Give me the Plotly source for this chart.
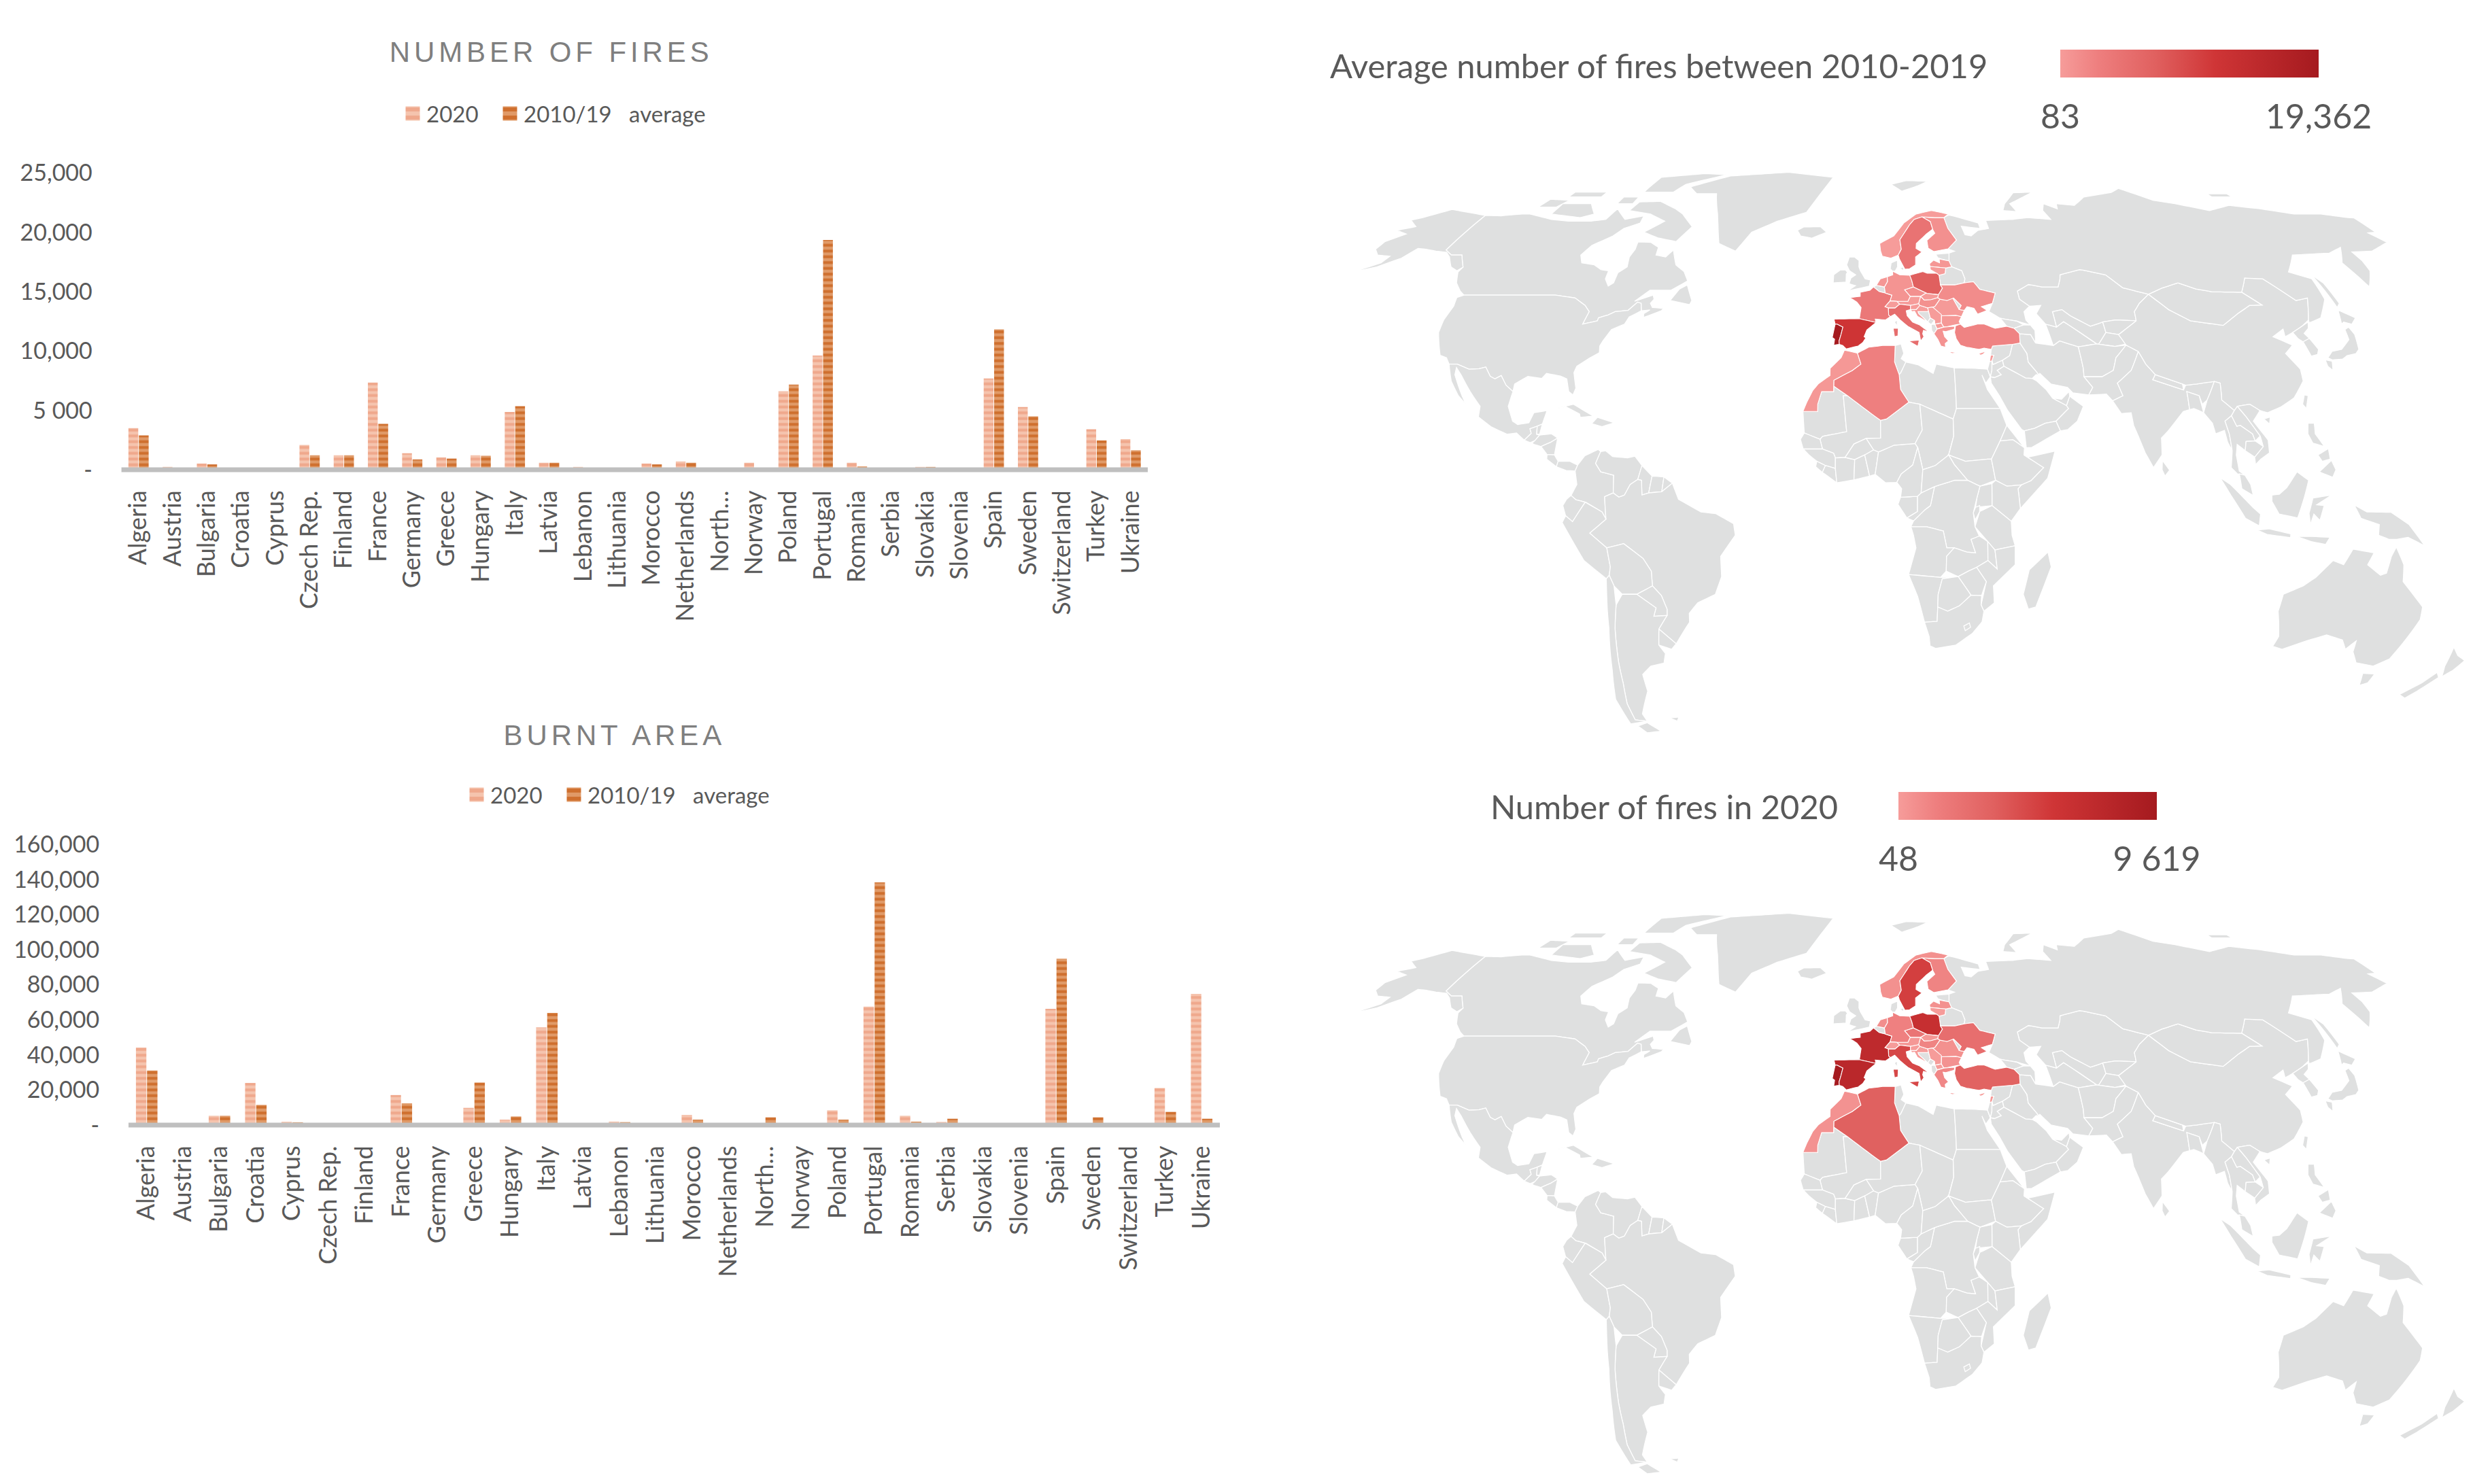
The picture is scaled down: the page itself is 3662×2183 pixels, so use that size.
import plotly.graph_objects as go
from urllib.parse import quote

W, H = 3662, 2183

CATEGORIES = ["Algeria","Austria","Bulgaria","Croatia","Cyprus","Czech Rep.","Finland","France","Germany","Greece",
              "Hungary","Italy","Latvia","Lebanon","Lithuania","Morocco","Netherlands","North…","Norway","Poland",
              "Portugal","Romania","Serbia","Slovakia","Slovenia","Spain","Sweden","Switzerland","Turkey","Ukraine"]
FIRES_2020 = [3515,240,520,60,60,2090,1220,7340,1390,1040,1220,4870,590,240,90,520,700,48,590,6610,
              9619,590,60,240,60,7690,5290,48,3410,2580]
FIRES_AVG = [2890,110,450,100,100,1220,1220,3860,870,940,1180,5360,590,120,90,450,590,100,120,7170,
             19362,280,100,240,90,11830,4490,83,2470,1640]
AREA_2020 = [44200,200,5300,24000,1900,100,100,17100,200,9800,3100,55700,100,2000,50,5800,200,100,100,8400,
             67500,5300,1800,100,50,66200,100,50,21100,74800]
AREA_AVG = [31100,100,5300,11500,1600,100,300,12400,300,24200,4900,63900,100,1700,50,3100,100,4400,100,3100,
            138300,2000,3600,200,50,94800,4400,50,7500,3600]
FIRE_TICKS = [0,5000,10000,15000,20000,25000]
FIRE_TICK_TEXT = ["-","5 000","10,000","15,000","20,000","25,000"]
AREA_TICKS = [0,20000,40000,60000,80000,100000,120000,140000,160000]
AREA_TICK_TEXT = ["-","20,000","40,000","60,000","80,000","100,000","120,000","140,000","160,000"]

# Rough country outlines, lon/lat, one list of rings per country
OUTLINES = {
"Canada":[[(-141,69.6),(-135,69.5),(-128,70),(-125,70),(-115,68.5),(-108,68),(-100,68),(-95,68.5),(-94,71.5),(-88,68.5),(-82,69.5),(-81.5,67.5),(-86,66),(-88,64),(-93,61.5),(-94.5,59),(-92.5,57),(-88,56.5),(-85,55.3),(-82.3,55),(-82,53),(-80,51.2),(-78.8,52),(-79,54.5),(-77,56),(-78,58.5),(-77.5,60.5),(-78,62.4),(-73.5,62.3),(-70,61),(-69.5,59),(-66,58.5),(-64.5,60.3),(-61.5,56.5),(-58,54.8),(-55.8,52.5),(-60,50.2),(-66.5,50.2),(-70,47.5),(-65,49),(-64.3,48),(-65,47),(-64,46),(-61,45.8),(-60,46.5),(-61,45.2),(-65.7,43.6),(-66,44.5),(-64.5,45.4),(-67,45.2),(-67.8,47),(-69,47.3),(-71,45.3),(-74.7,45),(-76.5,44.2),(-79,43.5),(-79,42.8),(-83,42),(-82.5,45),(-84.5,46.5),(-88.5,48.3),(-95,49),(-123,49),(-125,50),(-128,52),(-130.3,54.7),(-130,55.9),(-134,59),(-137.5,59),(-141,60.3)],
 [(-62,66.5),(-65,62.5),(-72,63.5),(-78,65),(-73,68),(-80,70),(-89,71),(-88,73.5),(-80,73.7),(-72,71.5),(-68,70)],
 [(-117,70),(-105,69),(-101,70),(-106,73),(-117,73)],
 [(-90,76.5),(-78,76.5),(-76,79),(-62,82.5),(-72,83),(-90,81.5)],
 [(-125,72),(-118,72),(-116,74),(-124,74.3)],
 [(-118,75),(-105,75),(-105,76.5),(-118,76.5)],
 [(-96,73),(-90,73),(-90,75),(-96,75)],
 [(-59.3,47.7),(-53,46.7),(-52.7,47.7),(-55.5,51.5),(-57.5,50.5)]],
"USA":[[(-123,49),(-95,49),(-88.5,48.3),(-84.5,46.5),(-82.5,45),(-83,42),(-79,42.8),(-79,43.5),(-76.5,44.2),(-74.7,45),(-71,45.3),(-69,47.3),(-67.8,47),(-67,45.2),(-70,43.7),(-70.7,42),(-74,40.7),(-75.5,38),(-76,36.8),(-75.6,35.2),(-78,33.9),(-81,32),(-81.4,30.5),(-80,26.8),(-80.5,25.2),(-81.8,26),(-83,29),(-85,29.7),(-89,30.3),(-90,29.1),(-94,29.6),(-97.2,27.8),(-97.2,26),(-99.5,27.5),(-101.5,29.8),(-103,29),(-104.5,29.6),(-106.5,31.8),(-108.2,31.4),(-111,31.3),(-114.8,32.5),(-117.1,32.5),(-118.5,34),(-120.6,34.6),(-122,36.8),(-124,40),(-124.5,43),(-124,46.3),(-124.7,48.4)],
 [(-141,69.6),(-148,70.4),(-156.5,71.3),(-163,69),(-166,68.3),(-161,66.5),(-166,65.5),(-161,64.5),(-165,62.5),(-165,60.5),(-162,59),(-157.5,58.7),(-158,57),(-164,54.7),(-158,56),(-153,58.2),(-151,60.7),(-148,60.5),(-144,60),(-140,59.7),(-137.5,58.5),(-134,56),(-131,55),(-130,55.9),(-134,59),(-137.5,59),(-141,60.3)]],
"Mexico":[[(-117.1,32.5),(-114.8,32.5),(-111,31.3),(-108.2,31.4),(-106.5,31.8),(-104.5,29.6),(-103,29),(-101.5,29.8),(-99.5,27.5),(-97.2,26),(-97.8,22.5),(-96,19),(-94.5,18.2),(-91.5,18.6),(-90.5,21),(-87,21.5),(-87.8,18.3),(-89.1,17.8),(-91,17.2),(-90.5,16.1),(-92.2,14.5),(-94.5,16.2),(-97,15.9),(-101.5,17.6),(-105.5,20),(-105.5,22.5),(-109,26),(-112.8,30),(-114.7,31.7),(-114.5,30),(-111,25),(-109.5,23),(-112,25),(-115,28.5)]],
"Guatemala":[[(-92.2,14.5),(-90.5,16.1),(-91,17.2),(-89.1,17.8),(-89,15.9),(-88.2,15.7),(-89.3,14.4),(-90.5,13.9)]],
"Belize":[[(-89.1,17.8),(-87.8,18.3),(-88.2,15.9),(-89,15.9)]],
"Honduras":[[(-89.3,14.4),(-88.2,15.7),(-85,16),(-83.2,15),(-85,14),(-87.5,13),(-89.5,13.5),(-90,13.8)]],
"Nicaragua":[[(-83.2,15),(-83.7,11),(-85.7,11.1),(-87.5,13),(-85,14)]],
"Costa Rica":[[(-83.7,11),(-82.6,9.5),(-83,8.2),(-85.7,10),(-85.7,11.1)]],
"Panama":[[(-82.6,9.5),(-79.5,9.5),(-77.3,8.6),(-77.9,7.2),(-80.3,7.3),(-83,8.2)]],
"Cuba":[[(-85,21.9),(-80,23),(-74.2,20.2),(-77.7,19.9),(-78,20.7),(-82,22.4)]],
"Hispaniola":[[(-74.4,18.4),(-73,19.9),(-68.3,18.6),(-71.5,17.7)]],
"Greenland":[[(-73,78.2),(-60,82),(-35,83.5),(-14,81.5),(-18,76),(-22,70.5),(-32,68),(-40,65),(-43.5,60),(-50,62),(-53,67),(-55,70),(-60,76),(-68,76)]],
"Iceland":[[(-24,65.5),(-22,66.4),(-16,66.5),(-13.6,65),(-18.5,63.4),(-22.5,64)]],
"Colombia":[[(-77.3,8.6),(-75.5,10.8),(-72,12.3),(-71.3,11.8),(-72.5,9),(-71,7),(-67.5,6.2),(-67.5,2),(-69.8,1.1),(-69.5,-4.2),(-70.5,-2.5),(-74.8,-0.2),(-77.5,0.4),(-78.8,1.4),(-77.3,4),(-77.9,7.2)]],
"Venezuela":[[(-71.3,11.8),(-70,12),(-68,10.6),(-64,10.3),(-62,10.7),(-60,8.5),(-61,5.2),(-63,4),(-64.5,1.5),(-66,1),(-67.5,2),(-67.5,6.2),(-71,7),(-72.5,9)]],
"Guyana":[[(-60,8.5),(-57.2,6),(-58,2),(-59.8,1.5),(-60,5),(-61,5.2)]],
"Suriname":[[(-57.2,6),(-54,5.8),(-54.5,2.3),(-58,2)]],
"French Guiana":[[(-54,5.8),(-51.7,4.3),(-54.5,2.3)]],
"Brazil":[[(-51.7,4.3),(-50,0.5),(-44,-2.5),(-40,-2.9),(-35.3,-5.3),(-34.9,-8),(-39,-13),(-39,-17.8),(-41,-22),(-46,-24),(-48.6,-26.5),(-48.8,-28.6),(-53.4,-33.7),(-57.6,-30.2),(-54.8,-27),(-54.6,-25.5),(-55.8,-22.3),(-58,-20),(-58,-16.5),(-60,-13.5),(-65,-10),(-69.6,-11),(-74,-7.5),(-69.5,-4.2),(-69.8,1.1),(-67.5,2),(-66,1),(-64.5,1.5),(-63,4),(-61,5.2),(-60,5),(-59.8,1.5),(-58,2),(-54.5,2.3)]],
"Ecuador":[[(-78.8,1.4),(-77.5,0.4),(-75,-0.2),(-78.5,-4.8),(-80.3,-3.4),(-81,-1),(-80,0.5)]],
"Peru":[[(-80.3,-3.4),(-78.5,-4.8),(-75,-0.2),(-70.5,-2.5),(-69.5,-4.2),(-74,-7.5),(-69.6,-11),(-69,-15.5),(-69.5,-17.5),(-70.4,-18.3),(-76,-14),(-81.3,-5)]],
"Bolivia":[[(-69.6,-11),(-65,-10),(-60,-13.5),(-58,-16.5),(-58,-20),(-62.5,-22),(-66.5,-22),(-68.5,-20),(-69.5,-17.5),(-69,-15.5)]],
"Paraguay":[[(-58,-20),(-55.8,-22.3),(-54.6,-25.5),(-54.8,-27),(-58.5,-27.2),(-57.6,-25.2),(-62.5,-22)]],
"Uruguay":[[(-57.6,-30.2),(-53.4,-33.7),(-55,-35),(-58.4,-34)]],
"Argentina":[[(-66.5,-22),(-62.5,-22),(-57.6,-25.2),(-58.5,-27.2),(-54.8,-27),(-57.6,-30.2),(-58.4,-34),(-57,-36),(-58,-38.3),(-62,-39),(-65,-41),(-65,-45),(-69,-50.5),(-68.4,-52.3),(-72,-52),(-72.5,-48),(-71.5,-43),(-71,-38),(-69.8,-30),(-68.5,-24.5)],
 [(-68.6,-52.7),(-65.3,-54.8),(-70,-55.2),(-72,-53.5)]],
"Chile":[[(-69.5,-17.5),(-68.5,-20),(-68.5,-24.5),(-69.8,-30),(-71,-38),(-71.5,-43),(-72.5,-48),(-72,-52),(-68.4,-52.3),(-74,-53),(-75.5,-47),(-73.5,-40),(-71.5,-30),(-70.4,-18.3)]],
"Falklands":[[(-61,-51.5),(-58,-51.3),(-59,-52.3)]],
"Tunisia":[[(8.6,36.9),(10.3,37.3),(11,35),(10.2,33.8),(11.5,33),(10,30.5),(9.5,30),(8.3,33)]],
"Libya":[[(11.5,33),(15,32.3),(19,30.3),(20,32.5),(25,31.6),(25,22),(24,19.5),(15,23),(12,23.5),(9.8,26.5),(9.5,30),(10,30.5)]],
"Egypt":[[(25,31.6),(31,31.5),(34.3,31.3),(34.9,29.5),(33.5,28),(32.6,29.9),(33.8,26.5),(37,22),(25,22)]],
"Mauritania":[[(-17,21.3),(-13,21.3),(-13,23),(-12,26),(-8.7,26),(-8.7,27.3),(-4.8,25),(-6,25),(-5,16.5),(-11.5,15.4),(-12.2,14.7),(-16.5,16.2)]],
"Mali":[[(-4.8,25),(3.2,19.8),(4.2,19.2),(4.2,15),(0.3,14.9),(-3,13.6),(-5.4,10.4),(-8,10.3),(-8.5,11.4),(-11.5,12.4),(-12.2,14.7),(-11.5,15.4),(-5,16.5),(-6,25)]],
"Senegal":[[(-16.5,16.2),(-12.2,14.7),(-11.5,12.4),(-16.7,12.4),(-17.5,14.7)]],
"Guinea":[[(-16.7,12.4),(-11.5,12.4),(-8.5,11.4),(-8,10.3),(-8,7.8),(-10.7,8.5),(-13,9.5),(-15,10.9)]],
"Liberia":[[(-11.5,6.9),(-7.6,4.4),(-8,7.8),(-10.7,8.5)]],
"Sierra Leone":[[(-13,9.5),(-10.7,8.5),(-11.5,6.9),(-13.3,8.2)]],
"Ivory Coast":[[(-8,7.8),(-7.6,4.4),(-3,5.1),(-2.8,9.9),(-5.4,10.4),(-8,10.3)]],
"Burkina":[[(-5.4,10.4),(-3,13.6),(0.3,14.9),(2.3,12.2),(-0.1,11),(-2.8,9.9)]],
"Ghana":[[(-3,5.1),(1.2,6),(-0.1,11),(-2.8,9.9)]],
"Togo Benin":[[(1.2,6),(2.7,6.4),(3.6,11.7),(2.3,12.2),(-0.1,11)]],
"Nigeria":[[(2.7,6.4),(5.5,4.4),(8.5,4.5),(9.7,6.5),(12.8,8.6),(14.2,12.8),(13.5,13.7),(7.8,13.3),(3.6,11.7)]],
"Niger":[[(4.2,19.2),(5.8,19.5),(12,23.5),(15,23),(15.5,16.9),(13.5,13.7),(7.8,13.3),(3.6,11.7),(2.3,12.2),(0.3,14.9),(4.2,15)]],
"Chad":[[(15,23),(24,19.5),(24,15.5),(22.5,11),(18.9,8.5),(15.5,7.5),(14.2,12.8),(13.5,13.7),(15.5,16.9)]],
"Sudan":[[(24,19.5),(25,22),(37,22),(38.5,18),(36.5,14.3),(34,10),(33,10),(27,9.5),(22.5,11),(24,15.5)]],
"South Sudan":[[(22.5,11),(27,9.5),(33,10),(34,10),(35,5),(30.8,3.6),(27.5,5),(24,8.7)]],
"Eritrea":[[(38.5,18),(43,12.7),(40,14.6),(36.5,14.3)]],
"Ethiopia":[[(36.5,14.3),(40,14.6),(43,12.7),(42.8,11),(48,8),(44.5,4.9),(41.9,3.9),(38,3.6),(35,5),(34,10)]],
"Somalia":[[(42.8,11),(44,10.5),(51.2,11.9),(49,5.5),(41.6,-1.7),(41,3),(41.9,3.9),(44.5,4.9),(48,8)]],
"Kenya":[[(35,5),(38,3.6),(41.9,3.9),(41,3),(41.6,-1.7),(39.2,-4.7),(34,-1),(34,4.2)]],
"Uganda":[[(30.8,3.6),(34,4.2),(34,-1),(29.6,-1.4),(30,1)]],
"Tanzania":[[(34,-1),(39.2,-4.7),(39.5,-8),(40.4,-10.5),(35,-11.5),(33,-9.5),(29.5,-6),(30.7,-2.4)]],
"Rwanda":[[(29.6,-1.4),(30.7,-1),(30.7,-2.4),(29.5,-4.4),(29,-2.7)]],
"DR Congo":[[(18.6,3.5),(24,5),(27.5,5),(30.8,3.6),(30,1),(29,-2.7),(29.5,-6),(30.7,-8.2),(28.5,-9),(29.8,-12.2),(27.5,-12),(24,-11),(22,-11),(21,-7),(16.5,-6),(12.3,-6),(13,-4.6),(16,-2),(17.5,-1)]],
"Congo":[[(13,-4.6),(11.2,-3.9),(14,-2.4),(14,1.2),(15,2),(18.6,3.5),(17.5,-1),(16,-2)]],
"Gabon":[[(9.5,1),(14,1.2),(14,-2.4),(11.2,-3.9),(8.8,-0.7)]],
"Cameroon":[[(8.5,4.5),(9.8,3),(9.5,1),(14,1.2),(15,2),(15.5,7.5),(14.2,12.8),(12.8,8.6),(9.7,6.5)]],
"CAR":[[(15,2),(15.5,7.5),(18.9,8.5),(22.5,11),(24,8.7),(27.5,5),(24,5),(18.6,3.5)]],
"Angola":[[(12.3,-6),(16.5,-6),(21,-7),(22,-11),(24,-11),(22,-13),(22,-16.5),(20.5,-18),(11.8,-17.3),(13.7,-11),(13,-8)]],
"Zambia":[[(22,-13),(24,-11),(27.5,-12),(29.8,-12.2),(28.5,-9),(30.7,-8.2),(33,-9.5),(33.2,-14),(30.2,-15.6),(28,-16.5),(25.3,-17.8),(22,-16.5)]],
"Malawi":[[(33,-9.5),(35,-11.5),(35.8,-16),(34.5,-15),(33.2,-14)]],
"Mozambique":[[(35,-11.5),(40.4,-10.5),(40.6,-15),(35,-20),(35.5,-24),(32.8,-26),(31.9,-24.5),(33,-19),(30.2,-15.6),(33.2,-14),(34.5,-15),(35.8,-16)]],
"Zimbabwe":[[(25.3,-17.8),(28,-16.5),(30.2,-15.6),(33,-19),(31.9,-22.3),(29,-22.2)]],
"Namibia":[[(11.8,-17.3),(20.5,-18),(25.3,-17.8),(21,-18.3),(20,-22),(20,-28.4),(16.5,-28.6),(14.4,-22.5)]],
"Botswana":[[(21,-18.3),(25.3,-17.8),(29,-22.2),(26,-24.7),(22.8,-26),(20,-25),(20,-22)]],
"South Africa":[[(16.5,-28.6),(20,-28.4),(20,-25),(22.8,-26),(26,-24.7),(29,-22.2),(31.9,-22.3),(31.9,-24.5),(32.8,-26),(32.5,-28.5),(30,-31.3),(25.7,-34),(20,-34.8),(18.4,-34.2),(18,-32)]],
"Lesotho":[[(27.5,-29.5),(29,-28.8),(29.4,-29.8),(28,-30.6)]],
"Madagascar":[[(49.3,-12),(50.4,-15.5),(47,-25),(45,-25.5),(43.3,-22),(44.5,-16.2)]],
"Syria":[[(36,36),(36.5,36.8),(42.3,37.2),(41,34.5),(38.8,33.4),(36,32.4),(35.8,33.3),(36.5,34.6),(35.6,34.6)]],
"Israel":[[(34.3,31.3),(35.1,33.1),(35.8,33.3),(35.5,31),(34.9,29.5)]],
"Jordan":[[(35.5,31),(35.8,33.3),(36,32.4),(38.8,33.4),(39,32),(37,31),(38,30),(36,29.3),(34.9,29.5)]],
"Iraq":[[(38.8,33.4),(41,34.5),(42.3,37.2),(44.5,37.5),(46,35),(46,33),(48.5,30),(47.7,30),(46.5,29.1),(44.7,29.2),(39,32)]],
"Saudi Arabia":[[(34.9,29.5),(36,29.3),(38,30),(37,31),(39,32),(44.7,29.2),(46.5,29.1),(47.7,28.5),(50,26.5),(51.5,24.5),(55.2,22.7),(55.7,22),(52,19),(49,18.5),(46,17.3),(43.2,16.7),(42.5,17),(39,21.5),(37,25),(35,28)]],
"Yemen":[[(43.2,16.7),(46,17.3),(49,18.5),(52,19),(53,16.7),(45,12.8),(43.5,12.7)]],
"Oman":[[(52,19),(55.7,22),(55.2,22.7),(56.3,24.9),(59.8,22.5),(57.8,19),(55,17),(53,16.7)]],
"UAE":[[(51.5,24.5),(54,24.2),(56.3,26),(56.3,24.9),(55.2,22.7)]],
"Iran":[[(44.8,39.7),(48,39.5),(49,37.5),(53.9,36.9),(56,38),(61,36.6),(61.2,31.5),(61,29.5),(63,27),(61.6,25.2),(57.3,25.7),(56,27),(51.5,27.8),(48.8,30.3),(48.5,30),(46,33),(46,35),(44.5,37.5)]],
"Turkmenistan":[[(53,42),(53.9,36.9),(56,38),(61,36.6),(66.5,37.3),(61,41),(58.5,42.6),(56,41.3)]],
"Uzbekistan":[[(56,41.3),(56,45),(59,45.5),(61,44),(66,41.5),(70,42.5),(70,40),(67,37.2),(66.5,37.3),(61,41),(58.5,42.6)]],
"Kazakhstan":[[(49.5,46.3),(47,48),(47,50),(51,51.6),(55,51),(60,51),(61.5,53),(62,54),(69,55.3),(71,55),(76.5,54),(80,50.8),(87,49.2),(83,47),(80.5,45),(80,42.8),(74,43),(70,42.5),(66,41.5),(61,44),(59,45.5),(56,45),(56,41.3),(53,42),(51,44.5),(53,46.5)]],
"Kyrgyzstan":[[(70,42.5),(74,43),(80,42.8),(73.5,39.5),(70,40)]],
"Tajikistan":[[(67,37.2),(70,40),(73.5,39.5),(75,37.3),(71.5,36.7)]],
"Afghanistan":[[(61,36.6),(66.5,37.3),(67,37.2),(71.5,36.7),(74.8,37),(71,34),(69.5,31),(66,29.5),(61,29.5),(61.2,31.5)]],
"Pakistan":[[(61,29.5),(66,29.5),(69.5,31),(71,34),(74.8,37),(77.8,35.5),(74.5,31),(70,28),(71,25),(68,23.8),(66.5,25.4),(61.6,25.2),(63,27)]],
"India":[[(77.8,35.5),(79,32.5),(81,30),(80,28.8),(88,26.4),(88.8,27.5),(92,27.8),(97,28.4),(94,24),(92.5,23),(92,25),(88.8,26),(88.8,21.7),(87,21.3),(82,16.5),(80.2,15),(80,11),(77.5,8),(75.5,11.5),(73,18),(72.7,21),(70,20.8),(68,23.8),(71,25),(70,28),(74.5,31)]],
"Bangladesh":[[(88.8,26),(92,25),(92.5,21),(90,22),(88.8,21.7)]],
"Nepal":[[(80,28.8),(81,30),(88,27.8),(88,26.4)]],
"Sri Lanka":[[(80,9.7),(81.8,7.4),(80.5,6),(79.8,7.5)]],
"China":[[(73.5,39.5),(80,42.8),(80.5,45),(83,47),(87,49.2),(91,45.5),(96,42.8),(105,41.7),(111,44.5),(116,46.5),(119.8,46.6),(116,49.7),(120,53.2),(125.5,53),(131,47.7),(135,48.3),(131,43),(128,41.5),(124.3,40),(121.5,39),(122,40.8),(118,39),(122.5,37),(119.5,35),(122,31.3),(121.7,28.5),(118,24.5),(114,22.4),(110,21),(108,21.5),(105.5,23),(102,22.5),(101,21.5),(98,24),(98.5,28),(97,28.4),(92,27.8),(88.8,27.5),(88,27.8),(81,30),(79,32.5),(77.8,35.5),(74.8,37)],
 [(108.7,19.5),(110.5,20),(110,18.3)]],
"Taiwan":[[(121,25.2),(122,25),(120.8,22),(120,23)]],
"Mongolia":[[(87,49.2),(92,50.7),(98,52),(102.5,50.5),(107,49.8),(116,49.7),(119.8,46.6),(116,46.5),(111,44.5),(105,41.7),(96,42.8),(91,45.5)]],
"North Korea":[[(124.3,40),(128,41.5),(130.5,42.5),(129.5,41),(127.5,39.8),(128.3,38.6),(126,37.8),(125,38.5)]],
"South Korea":[[(126,37.8),(128.3,38.6),(129.4,36),(128.5,34.8),(126.5,34.4)]],
"Japan":[[(131,34),(133,35.5),(136,36),(139.5,38.3),(140,40.7),(141.5,41.3),(142,39.5),(140.9,36),(139.5,35),(136.7,34.5),(135,33.7),(132,33.5)],
 [(130,33.5),(131.8,33.2),(131,31),(130,32)],[(140,42),(141.7,45.4),(145.3,43.5),(143,42),(141,42.5)]],
"Russia":[[(27.5,57.5),(28,59.5),(30,60),(28,60.6),(31.5,62.9),(29.5,66),(29,69),(31,69.7),(33,69.4),(41,67.5),(41,66),(34.5,66.6),(35,64.3),(37,64),(40,65.5),(44,66),(44,68.2),(54,68.5),(60,69),(68,68.5),(67,71),(69,73),(73,71.5),(74,73),(80.5,72.5),(87,75),(100,76.4),(105,77.7),(113,74),(120,73),(130,71),(140,72.5),(150,71.5),(160,70),(170,70),(178,69),(180,68.9),(180,65),(177,64.8),(179,62.3),(170,60),(163,59.8),(163,57.5),(162,55),(156.8,51),(155.7,57),(161,61),(155,59.5),(142,59),(135.5,54.7),(141,53),(140,48),(135,43.5),(130.7,42.3),(131,43),(135,48.3),(131,47.7),(125.5,53),(120,53.2),(116,49.7),(107,49.8),(102.5,50.5),(98,52),(92,50.7),(87,49.2),(80,50.8),(76.5,54),(71,55),(69,55.3),(62,54),(61.5,53),(60,51),(55,51),(51,51.6),(47,50),(47,48),(49.5,46.3),(47.5,45),(47.5,43),(48.5,41.8),(44.8,42.7),(40,43.4),(37,45),(38.5,47),(40,49.5),(35.5,50.4),(34,52.3),(31,52),(31.5,53),(31,55),(28,56)],
 [(142,54),(143.5,52),(143.5,47),(142,46),(142,50)],
 [(52,71),(57,70.7),(56,73),(68,76.5),(60,76.3),(54,73)],
 [(138,75),(146,75),(146,76),(138,76)]],
"Svalbard":[[(11,79),(15,76.8),(22,78.5),(27,80),(18,80.3)]],
"Belarus":[[(23.5,51.5),(23.5,53.9),(25.5,54.3),(26,55.7),(28,56),(31,55),(31.5,53),(31,52),(28,51.5)]],
"Moldova":[[(27,48.3),(29,46.5),(28.2,45.5),(26.7,48.3)]],
"Estonia":[[(23.5,59.2),(28,59.5),(27.5,57.5),(25,58),(24,58.3)]],
"Belgium":[[(2.6,51),(3.5,51.4),(6,51),(6.2,49.5),(4.3,49.9)]],
"Denmark":[[(8.1,55.5),(8.5,57),(10.6,57.7),(10.5,56),(9.6,54.9),(8.8,54.9)],[(11.2,55.7),(12.6,56),(12.2,55)]],
"UK":[[(-5.5,50),(1.3,51.2),(1.7,52.7),(0,53),(-1.5,55),(-2,56),(-2,57.6),(-3.5,58.5),(-5.2,58.5),(-6,56.5),(-5,55),(-3,54),(-4.5,53.2),(-5,51.8),(-3,51.3)]],
"Ireland":[[(-10,52),(-6,52.2),(-6,54.2),(-5.6,54.6),(-6.3,55.2),(-8,55.2),(-10,54)]],
"Corsica":[[(8.6,42.5),(9.5,43),(9.4,41.5)]],
"Bosnia":[[(15.8,45),(19,45),(19.3,43.5),(18.5,42.5),(16,44.5)]],
"Montenegro":[[(18.5,42.5),(19.3,43.5),(20.5,42.9),(19.4,41.9)]],
"Albania":[[(19.4,41.9),(20.5,42),(21,40.8),(20,39.7),(19.4,40.5)]],
"Georgia":[[(40,43.4),(44.8,42.7),(46.5,41.8),(43.5,41),(41.5,41.5)]],
"Azerbaijan":[[(46.5,41.8),(48.5,41.8),(49.5,40.5),(49,37.5),(48,39.5),(44.8,39.7),(43.5,41)]],
"Myanmar":[[(92.5,21),(94,24),(97,28.4),(98.5,28),(98,24),(101,21.5),(100,20.3),(98,19),(98.7,16),(99,12),(98,14),(97.5,16.8),(95,16),(94.5,18.5)]],
"Thailand":[[(98.7,16),(98,19),(100,20.3),(101,17.8),(102,18),(105,16),(105.5,14.3),(103,14.2),(102.5,12),(100.5,13.5),(100,11),(100.5,7.2),(102,6.2),(100,6.5),(98.4,8),(99,12)]],
"Laos":[[(100,20.3),(101,21.5),(102,22.5),(104,20),(107,15.5),(105.5,14.3),(105,16),(102,18),(101,17.8)]],
"Vietnam":[[(102,22.5),(105.5,23),(108,21.5),(105.7,19),(109,14.5),(109,11.5),(106.5,10),(105,8.7),(104.9,10.5),(107.5,13),(107,15.5),(104,20)]],
"Cambodia":[[(103,14.2),(105.5,14.3),(107.5,13),(104.9,10.5),(102.5,12)]],
"Malaysia":[[(100.5,6.5),(102,6.2),(103.4,4),(104,1.4),(101,3)]],
"Sumatra":[[(95.3,5.6),(98,4),(104,-1.5),(106,-3),(105.8,-5.8),(102,-4),(98,1.5)]],
"Java":[[(105.3,-6.8),(108.5,-6.5),(114.4,-7.7),(114.4,-8.6),(108,-7.8)]],
"Borneo":[[(109,1.5),(111,1.7),(113,3.2),(116,7),(119,5),(117.7,1),(116,-3.9),(111,-3),(109,0)]],
"Sulawesi":[[(119.5,-5.5),(119,-2.8),(120,0.8),(125,1.5),(121,-0.8),(123,-1),(122,-4.5),(120.3,-3)]],
"Flores":[[(116,-8.3),(120,-8.3),(125,-8.5),(124,-10.2),(120,-9.5)]],
"New Guinea":[[(131,-0.8),(134.5,-2.5),(141,-2.6),(146,-5.5),(150.7,-10.5),(146,-8.5),(143,-9),(141,-9),(138,-8),(138,-5.5),(133,-4)]],
"Luzon":[[(120.5,18.5),(122.2,18.5),(122,16),(124,13),(121,13.8),(120,16)]],
"Mindanao":[[(122,7),(125.5,9.7),(126.5,7.5),(125.5,5.7)]],
"Visayas":[[(122,11),(125,12.5),(125.2,10),(123,9.5)]],
"Australia":[[(114.5,-22),(114,-26),(116.2,-32),(115.5,-34.3),(118.5,-35),(124.5,-33),(129.5,-31.6),(134.5,-32.8),(136.5,-35),(138.5,-33),(139,-35.6),(141.5,-38.2),(147,-39),(150.5,-37.3),(152,-33.5),(154,-28),(153.5,-25),(150,-22),(146.5,-19),(145.8,-15),(143.1,-10.8),(142.1,-13),(141.5,-17),(140,-17.5),(136,-15),(137.3,-12.2),(131.5,-11.3),(129.5,-15),(126.5,-14),(122.5,-18),(119.5,-20)],
 [(145.2,-40.7),(148.8,-40.9),(148.5,-43),(146.5,-43.6)]],
"New Zealand":[[(167,-34.5),(169.5,-36.5),(172.4,-37.7),(170.9,-40),(169,-41.5),(167.7,-39)],[(166.7,-40.5),(168.2,-41.7),(165,-45),(163,-46.7),(160.5,-45.8),(164.5,-43)]],
# countries with data
"Algeria":[[(-2.2,35.1),(1,36.5),(5,36.9),(8.6,36.9),(8.3,33),(9.5,30),(9.8,26.5),(12,23.5),(5.8,19.5),(4.2,19.2),(3.2,19.8),(-4.8,25),(-8.7,27.3),(-8.7,28.7),(-3.6,31),(-1.2,32.5)]],
"Morocco":[[(-5.9,35.8),(-2.2,35.1),(-1.2,32.5),(-3.6,31),(-8.7,28.7),(-8.7,26),(-12,26),(-13,23),(-13,21.3),(-17,21.3),(-16,23.5),(-14.5,26.2),(-12.9,27.9),(-9.8,29.8),(-9.8,31.5),(-6.8,34)]],
"Turkey":[[(26,40),(26.5,41.6),(28,42),(29,41.2),(33,42),(35,42),(38,41),(41.5,41.5),(43.5,41),(44.8,39.7),(44.5,37.5),(42.3,37.2),(36.5,36.8),(36,36),(34,36.3),(32.5,36),(30.5,36.3),(29,36.5),(27.3,37),(26.3,38.5)]],
"Cyprus":[[(32.3,35),(34.5,35.6),(33.6,34.9),(32.8,34.6)]],
"Lebanon":[[(35.1,33.1),(35.6,34.6),(36.5,34.6),(35.8,33.3)]],
"Ukraine":[[(22.2,48.4),(22.5,49.1),(24,50.7),(23.5,51.5),(28,51.5),(31,52),(34,52.3),(35.5,50.4),(40,49.5),(38.5,47),(35,46.2),(36.5,45.3),(33.5,44.4),(32.7,45.8),(30.7,46.2),(29.7,45.3),(28.2,45.5),(29,46.5),(27,48.3),(24.9,47.7),(22.8,48)]],
"Latvia":[[(21,56.8),(22.5,57.7),(24.3,57),(24.4,58),(27.5,57.5),(28,56),(26,55.7),(21,56.1)]],
"Lithuania":[[(21,56.1),(26,55.7),(25.5,54.3),(23.5,53.9),(22.8,54.4),(21,55.3)]],
"Poland":[[(14.2,53.9),(18.5,54.8),(19.8,54.4),(22.8,54.4),(23.5,53.9),(23.5,51.5),(24,50.7),(22.5,49.1),(19,49.4),(18.8,49.5),(15,51),(14.7,52.5)]],
"Germany":[[(7,53.5),(8.8,54),(8.8,54.9),(11,54),(14.2,53.9),(14.7,52.5),(15,51),(12.2,50.3),(13.8,48.7),(13,47.5),(9.6,47.5),(7.6,47.6),(8.2,49),(6.2,49.5),(6,51),(7,52.3)]],
"Netherlands":[[(3.5,51.4),(4.8,53),(7,53.5),(7,52.3),(6,51)]],
"France":[[(-4.7,48.4),(-1.5,48.7),(-1.5,49.7),(1.5,50.2),(2.6,51),(4.3,49.9),(6.2,49.5),(8.2,49),(7.6,47.6),(6,46.2),(7,45.9),(7,44.2),(7.5,43.8),(6,43),(3,43.2),(3.2,42.4),(-1.7,43.3),(-1.2,46),(-2.5,47.3)]],
"Switzerland":[[(6,46.2),(7.6,47.6),(9.6,47.5),(10.4,46.8),(9,45.9),(7,45.9)]],
"Austria":[[(9.6,47.5),(13,47.5),(13.8,48.7),(17,48.7),(16.2,46.9),(13.7,46.5),(10.4,46.8)]],
"Czech Rep.":[[(12.2,50.3),(15,51),(18.8,49.5),(17,48.7),(13.8,48.7)]],
"Slovakia":[[(17,48.7),(18.8,49.5),(19,49.4),(22.5,49.1),(22.2,48.4),(20,47.9),(18,47.8)]],
"Hungary":[[(16.2,46.9),(17,48.7),(18,47.8),(20,47.9),(22.2,48.4),(22.8,48),(21,46.2),(20.3,46.1),(18.8,45.9),(16.5,46.5)]],
"Slovenia":[[(13.7,46.5),(16.2,46.9),(16.5,46.5),(15.3,45.5),(13.6,45.5)]],
"Croatia":[[(13.6,45.5),(15.3,45.5),(16.5,46.5),(18.8,45.9),(19,45),(15.8,45),(16,44.5),(18.5,42.5),(15.5,43.9),(14.8,45.1),(14,45)]],
"Serbia":[[(18.8,45.9),(20.3,46.1),(22.7,44.3),(22.4,42.3),(20.5,42),(20.5,42.9),(19.3,43.5),(19,45)]],
"North…":[[(20.5,42),(22.4,42.3),(23,41.3),(21,40.9)]],
"Romania":[[(20.3,46.1),(21,46.2),(22.8,48),(24.9,47.7),(26.7,48.3),(28.2,45.5),(29.7,45.3),(28.6,43.8),(27,44.1),(22.7,44)]],
"Bulgaria":[[(22.7,44),(27,44.1),(28.6,43.8),(27.7,42.6),(28,42),(26.3,41.8),(24,41.4),(23,41.3),(22.4,42.3)]],
"Greece":[[(21,40.8),(23,41.3),(26.3,41.5),(26,40.8),(23.5,40.2),(22.7,40.3),(23,39),(24,38),(23,37.4),(23,36.5),(21.7,36.8),(21,38.3),(20,39.7)],[(23.6,35.5),(26.3,35.2),(24.7,35)]],
"Italy":[[(7,45.9),(9,45.9),(10.4,46.8),(13.7,46.5),(13.6,45.5),(12.3,45.2),(12.5,44),(14,42.5),(16,41.8),(18.5,40.2),(17,40.5),(16.7,39.7),(17,39),(16,38),(15.7,40),(12.5,41.5),(10.5,42.9),(8.8,44.4),(7.5,43.8),(7,44.2)],
 [(12.5,38),(15.6,38.2),(15.1,36.7)],[(8.2,41),(9.7,41),(9.5,39.2),(8.5,39)]],
"Spain":[[(-9.2,43.2),(-1.7,43.3),(3.2,42.4),(0.5,40.6),(-0.3,39),(0.2,38.7),(-0.7,37.6),(-2,36.8),(-5.4,36.1),(-6.4,36.9),(-7.4,37.2),(-7.5,38),(-7,39.5),(-6.5,41.3),(-8.2,42),(-8.8,42)]],
"Portugal":[[(-8.8,42),(-8.2,42),(-6.5,41.3),(-7,39.5),(-7.5,38),(-7.4,37.2),(-9,37),(-8.8,38.4),(-9.5,38.8)]],
"Norway":[[(5.2,60),(5,62),(10,64),(14,67.5),(19,70),(25,71),(31,70),(29,69),(25.7,69),(21,69.2),(18,68.5),(16,67),(14,65),(12,63),(12.2,60.5),(11,59),(8.5,58.2),(5.7,58.7)]],
"Sweden":[[(11,59),(12.2,60.5),(12,63),(14,65),(16,67),(18,68.5),(21,69.2),(23.7,67.9),(24,65.8),(21.5,64.5),(17.5,62),(17.2,60.7),(19,59.8),(16.7,58.5),(16.4,56.5),(14.3,55.5),(12.8,55.4),(11.3,58)]],
"Finland":[[(21,69.2),(25.7,69),(29,69),(29.5,66),(31.5,62.9),(28,60.6),(23,59.9),(21.3,60.8),(21.3,62.8),(24.5,64.7),(24,65.8),(23.7,67.9)]],
}

def prepare_ring(ring):
    pts = list(ring) + [ring[0]]
    dense = []
    for (x0, y0), (x1, y1) in zip(pts, pts[1:]):
        n = max(1, int(max(abs(x1 - x0), abs(y1 - y0)) / 1.5) + 1)
        dense += [[x0 + (x1 - x0) * i / n, y0 + (y1 - y0) * i / n] for i in range(n)]
    dense.append(dense[0])
    area = sum(a[0] * b[1] - b[0] * a[1] for a, b in zip(dense, dense[1:]))
    return dense if area < 0 else dense[::-1]   # the map needs outer rings clockwise

GEOJSON = {"type": "FeatureCollection", "features": [
    {"type": "Feature", "id": name, "properties": {},
     "geometry": {"type": "MultiPolygon", "coordinates": [[prepare_ring(r)] for r in rings]}}
    for name, rings in OUTLINES.items()]}
OTHER_COUNTRIES = [n for n in OUTLINES if n not in CATEGORIES]

RED_SCALE = [[0, "#F69C9A"], [0.15, "#EE7E7E"], [0.37, "#E0605F"], [0.6, "#CF3536"], [1, "#A51A1F"]]
GREY = "#DFE0E0"
TEXT = "#595959"
FONT = "Lato"
LIGHT, LIGHT_BG = "#EFA88C", "#F5C4AE"
DARK, DARK_BG = "#CF6F2E", "#E09A68"
BASELINE = "#BFBFBF"

def fx(px): return px / W
def fy(px): return 1 - px / H

fig = go.Figure()

def bars(name, values, x, y, color, bg, legend):
    fig.add_trace(go.Bar(x=CATEGORIES, y=values, name=name, xaxis=x, yaxis=y, legend=legend, showlegend=True,
                         marker=dict(color=color, line_width=0,
                                     pattern=dict(shape="-", fgcolor=color, bgcolor=bg, size=8.5, solidity=0.48, fillmode="replace"))))

bars("2020", FIRES_2020, "x", "y", LIGHT, LIGHT_BG, "legend")
bars("2010/19   average", FIRES_AVG, "x", "y", DARK, DARK_BG, "legend2")
bars("2020", AREA_2020, "x2", "y2", LIGHT, LIGHT_BG, "legend3")
bars("2010/19   average", AREA_AVG, "x2", "y2", DARK, DARK_BG, "legend4")

def grey_map(geo):
    fig.add_trace(go.Choropleth(geojson=GEOJSON, locations=OTHER_COUNTRIES, z=[0] * len(OTHER_COUNTRIES), featureidkey="id",
                                locationmode="geojson-id", geo=geo, showscale=False, zmin=0, zmax=1,
                                colorscale=[[0, GREY], [1, GREY]], hoverinfo="skip",
                                marker_line=dict(color="white", width=1.3)))

def fire_map(geo, values, zmin, zmax, ticktext, x, top):
    fig.add_trace(go.Choropleth(geojson=GEOJSON, locations=CATEGORIES, z=values, featureidkey="id",
                                locationmode="geojson-id", geo=geo, zmin=zmin, zmax=zmax, colorscale=RED_SCALE,
                                marker_line=dict(color="white", width=1.1),
                                colorbar=dict(orientation="h", x=fx(x), xanchor="left", y=fy(top), yanchor="top",
                                              len=380, lenmode="pixels", thickness=41, thicknessmode="pixels",
                                              outlinewidth=0, xpad=0, ypad=0, tickvals=[zmin, zmax], ticktext=ticktext,
                                              ticks="outside", ticklen=15, tickcolor="rgba(255,255,255,0)",
                                              tickfont=dict(family=FONT, size=50, color=TEXT))))

grey_map("geo")
fire_map("geo", FIRES_AVG, 83, 19362, ["83", "19,362"], 3030, 73)
grey_map("geo2")
fire_map("geo2", FIRES_2020, 48, 9619, ["48", "9 619"], 2792, 1165)

geo_common = dict(visible=False, projection=dict(type="robinson", scale=1.075, rotation=dict(lon=0)),
                  lonaxis=dict(range=[-180, 180]), lataxis=dict(range=[-60, 85]), center=dict(lon=0, lat=12),
                  bgcolor="rgba(0,0,0,0)")
x_axis = dict(type="category", categoryorder="array", categoryarray=CATEGORIES, tickangle=-90, ticks="outside", ticklen=15,
              tickcolor="rgba(255,255,255,0)", tickfont=dict(family=FONT, size=36, color=TEXT),
              showline=False, showgrid=False, zeroline=False)
y_axis = dict(ticks="outside", ticklen=35, tickcolor="rgba(255,255,255,0)", tickfont=dict(family=FONT, size=34, color=TEXT),
              showgrid=False, zeroline=False, showline=False)
legend_common = dict(orientation="h", font=dict(family=FONT, size=33, color=TEXT), itemwidth=30, yanchor="middle",
                     xanchor="left", bgcolor="rgba(0,0,0,0)", itemclick=False, itemdoubleclick=False)
note_font = dict(family="Liberation Sans", size=42, color="#7F7F7F")
map_font = dict(family=FONT, size=48.8, color=TEXT)

fig.update_layout(
    width=W, height=H, autosize=False, margin=dict(l=0, r=0, t=0, b=0, autoexpand=False), paper_bgcolor="white", plot_bgcolor="white",
    font=dict(family=FONT, color=TEXT), barmode="group", bargap=0.39, bargroupgap=0.06,
    xaxis=dict(domain=[fx(178.6), fx(1688)], anchor="y", **x_axis),
    yaxis=dict(domain=[fy(691), fy(254.5)], anchor="x", range=[0, 25000], tickvals=FIRE_TICKS, ticktext=FIRE_TICK_TEXT, **y_axis),
    xaxis2=dict(domain=[fx(189), fx(1794)], anchor="y2", **x_axis),
    yaxis2=dict(domain=[fy(1655), fy(1242)], anchor="x2", range=[0, 160000], tickvals=AREA_TICKS, ticktext=AREA_TICK_TEXT, **y_axis),
    geo=dict(domain=dict(x=[fx(1824), 1], y=[fy(1093), fy(233)]), **geo_common),
    geo2=dict(domain=dict(x=[fx(1824), 1], y=[fy(2183), fy(1323)]), **geo_common),
    legend=dict(x=fx(587), y=fy(167), **legend_common),
    legend2=dict(x=fx(730), y=fy(167), **legend_common),
    legend3=dict(x=fx(681), y=fy(1169), **legend_common),
    legend4=dict(x=fx(824), y=fy(1169), **legend_common),
    shapes=[
        dict(type="line", xref="paper", yref="paper", x0=fx(178.6), x1=fx(1688), y0=fy(691), y1=fy(691), layer="above", line=dict(color=BASELINE, width=7)),
        dict(type="line", xref="paper", yref="paper", x0=fx(189), x1=fx(1794), y0=fy(1655), y1=fy(1655), layer="above", line=dict(color=BASELINE, width=7)),
    ],
    annotations=[
        dict(text="NUMBER OF FIRES", x=fx(810), y=fy(77), xref="paper", yref="paper", showarrow=False,
             xanchor="center", yanchor="middle", font=note_font),
        dict(text="BURNT AREA", x=fx(904), y=fy(1081), xref="paper", yref="paper", showarrow=False,
             xanchor="center", yanchor="middle", font=note_font),
        dict(text="Average number of fires between 2010-2019", x=fx(1954), y=fy(96), xref="paper", yref="paper",
             xanchor="left", yanchor="middle", showarrow=False, font=map_font),
        dict(text="Number of fires in 2020", x=fx(2190), y=fy(1186), xref="paper", yref="paper",
             xanchor="left", yanchor="middle", showarrow=False, font=map_font),
    ],
)

POST = """
document.body.style.margin = '0';
function polish() {
  document.querySelectorAll('.annotation-text').forEach(function (t) {
    if (t.textContent === 'NUMBER OF FIRES' || t.textContent === 'BURNT AREA') { t.style.letterSpacing = '5.9px'; }
  });
  document.querySelectorAll('.legendpoints path').forEach(function (p) {
    if (!p.dataset.big) { p.dataset.big = '1'; p.setAttribute('transform', (p.getAttribute('transform') || '') + ' scale(1.75)'); }
  });
}
[0, 100, 400, 1000, 2000].forEach(function (ms) { setTimeout(polish, ms); });
"""
# Plotly asks for a base-map file even though every shape here comes from GEOJSON: hand it an empty one inline.
EMPTY_TOPOLOGY = "data:application/json," + quote('{"type":"Topology","objects":{},"arcs":[]}') + "#"
fig.write_html("out.html", config=dict(displayModeBar=False, topojsonURL=EMPTY_TOPOLOGY), post_script=POST)
